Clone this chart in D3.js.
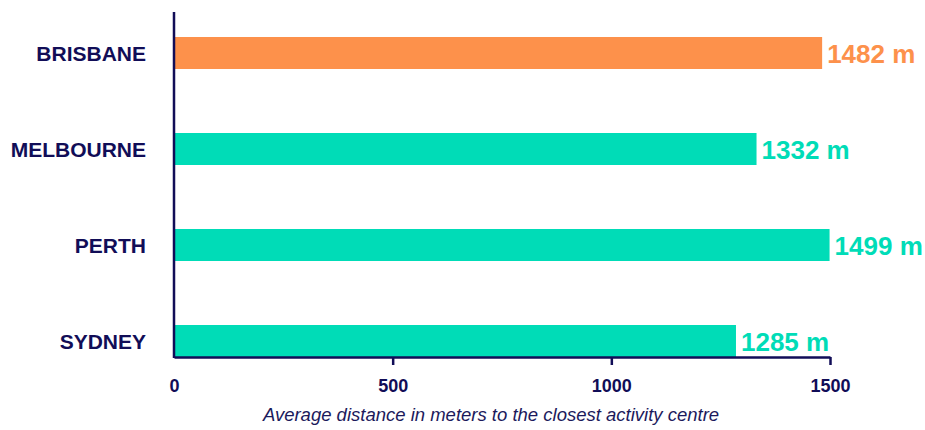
<!DOCTYPE html>
<html>
<head>
<meta charset="utf-8">
<script src="https://cdn.jsdelivr.net/npm/d3@7"></script>
<style>
  body { margin: 0; background: #fff; }
  svg { font-family: "Liberation Sans", Arial, sans-serif; }
</style>
</head>
<body>
<div id="chart"></div>
<script>
// chart data
const cities = ["BRISBANE", "MELBOURNE", "PERTH", "SYDNEY"];
const distances = [1482, 1332, 1499, 1285];
const highlight = ["BRISBANE"];
const xTicks = [0, 500, 1000, 1500];
const axisTitle = "Average distance in meters to the closest activity centre";

const width = 925, height = 430;
const navy = "#110d57";
const orange = "#fd914b";
const teal = "#00dcb7";

const svg = d3.select("#chart")
    .append("svg")
    .attr("width", width)
    .attr("height", height);

// scales
const x = d3.scaleLinear()
    .domain([0, 1500])
    .range([174, 830]);

const y = d3.scaleBand()
    .domain(cities)
    .range([37, 357])
    .paddingInner(2 / 3)
    .paddingOuter(0);

const color = d => highlight.includes(d) ? orange : teal;

// bars
svg.selectAll("rect.bar")
    .data(cities)
    .enter()
    .append("rect")
    .attr("class", "bar")
    .attr("x", x(0) + 1)
    .attr("y", d => y(d))
    .attr("width", (d, i) => x(distances[i]) - x(0) - 1)
    .attr("height", y.bandwidth())
    .attr("fill", color);

// value labels
svg.selectAll("text.value")
    .data(cities)
    .enter()
    .append("text")
    .attr("class", "value")
    .attr("x", (d, i) => x(distances[i]) + 5)
    .attr("y", d => y(d) + y.bandwidth() / 2)
    .attr("dy", "0.37em")
    .attr("fill", color)
    .style("font-size", "26px")
    .style("font-weight", "bold")
    .text((d, i) => `${distances[i]} m`);

// x axis
const xAxis = d3.axisBottom(x)
    .tickValues(xTicks)
    .tickFormat(d3.format("d"))
    .tickSize(8)
    .tickSizeOuter(0)
    .tickPadding(14);

const gx = svg.append("g")
    .attr("transform", `translate(0, 357)`)
    .call(xAxis);

gx.select(".domain").attr("stroke", navy).attr("stroke-width", 2.5);
gx.selectAll(".tick line")
    .attr("stroke", navy)
    .attr("stroke-width", 2.5)
    .filter(d => d === 0).remove();
gx.selectAll(".tick text")
    .attr("fill", navy)
    .style("font-size", "18px")
    .style("font-weight", "bold")
    .style("font-family", "Liberation Sans, Arial, sans-serif");

// y axis line
svg.append("line")
    .attr("x1", x(0))
    .attr("x2", x(0))
    .attr("y1", 12)
    .attr("y2", 358)
    .attr("stroke", navy)
    .attr("stroke-width", 2.5);

// category labels
svg.selectAll("text.city")
    .data(cities)
    .enter()
    .append("text")
    .attr("class", "city")
    .attr("x", 146)
    .attr("y", d => y(d) + y.bandwidth() / 2)
    .attr("dy", "0.36em")
    .attr("text-anchor", "end")
    .attr("fill", navy)
    .style("font-size", "21px")
    .style("font-weight", "bold")
    .text(d => d);

// axis title
svg.append("text")
    .attr("x", 491)
    .attr("y", 421)
    .attr("text-anchor", "middle")
    .attr("fill", "#1c1a5c")
    .style("font-size", "18.5px")
    .style("font-style", "italic")
    .text(axisTitle);
</script>
</body>
</html>
